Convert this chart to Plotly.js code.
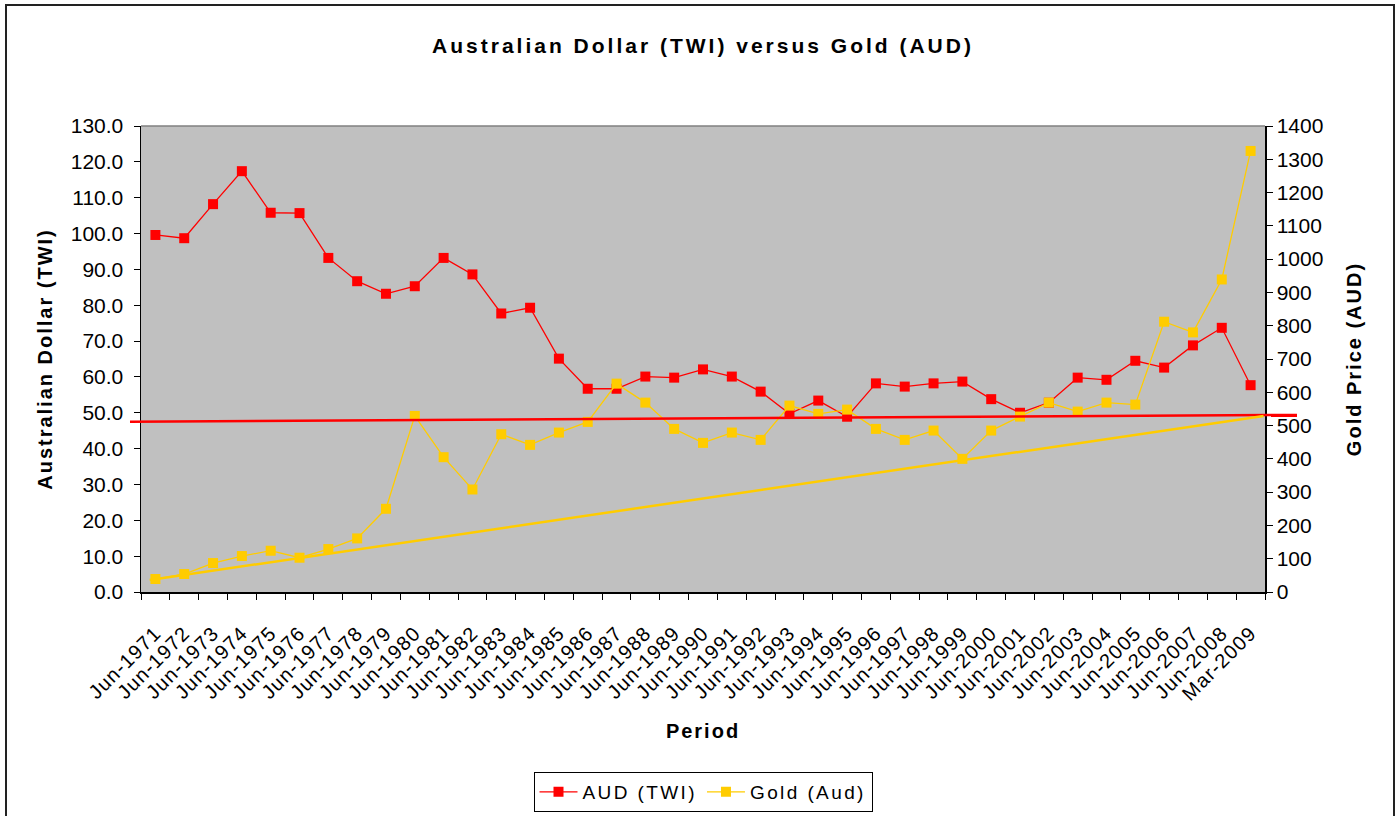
<!DOCTYPE html>
<html>
<head>
<meta charset="utf-8">
<script src="https://cdn.plot.ly/plotly-3.0.1.min.js"></script>
<style>
html,body{margin:0;padding:0;background:#fff;overflow:hidden;}
#chart{position:absolute;left:0;top:0;width:1397px;height:816px;}
#frame{position:absolute;left:5px;top:4px;width:1386px;height:830px;border:2px solid #222;pointer-events:none;z-index:10;}
.gtitle{letter-spacing:3px;}
.xtitle,.ytitle,.y2title{letter-spacing:2px;}
.legendtext{letter-spacing:2.4px;}
.xtick text{letter-spacing:1.2px;}
</style>
</head>
<body>
<div id="chart"></div>
<div id="frame"></div>
<script>
const periods = ["Jun-1971","Jun-1972","Jun-1973","Jun-1974","Jun-1975","Jun-1976","Jun-1977","Jun-1978","Jun-1979","Jun-1980",
"Jun-1981","Jun-1982","Jun-1983","Jun-1984","Jun-1985","Jun-1986","Jun-1987","Jun-1988","Jun-1989","Jun-1990",
"Jun-1991","Jun-1992","Jun-1993","Jun-1994","Jun-1995","Jun-1996","Jun-1997","Jun-1998","Jun-1999","Jun-2000",
"Jun-2001","Jun-2002","Jun-2003","Jun-2004","Jun-2005","Jun-2006","Jun-2007","Jun-2008","Mar-2009"];

const audTWI = [99.6,98.7,108.2,117.4,105.8,105.7,93.2,86.7,83.2,85.3,
93.2,88.6,77.7,79.3,65.1,56.7,56.7,60.1,59.8,62.1,
60.1,55.9,49.7,53.4,48.9,58.2,57.3,58.2,58.7,53.8,
50.0,52.8,59.8,59.2,64.5,62.6,68.8,73.7,57.7];

const goldAUD = [39,54,87,108,124,103,129,161,250,529,
405,308,474,442,479,511,626,569,490,448,
479,457,560,535,548,490,457,485,400,485,
527,569,542,569,563,812,780,939,1325];

// straight reference lines drawn on the chart (start value, end value)
const audLine = [47.5, 49.4];
const goldLine = [36, 529];

const yLeftRange = [0,130];
const yRightRange = [0,1400];

const font = "Liberation Sans, Arial, sans-serif";

const traces = [
  {x: periods, y: audTWI, name: "AUD (TWI)", type: "scatter", mode: "lines+markers",
   line: {color: "#FF0000", width: 1.3}, marker: {symbol: "square", size: 10, color: "#FF0000"}, yaxis: "y"},
  {x: periods, y: goldAUD, name: "Gold (Aud)", type: "scatter", mode: "lines+markers",
   line: {color: "#FFCC00", width: 1.3}, marker: {symbol: "square", size: 10, color: "#FFCC00"}, yaxis: "y2"}
];

const layout = {
  width: 1397, height: 816,
  paper_bgcolor: "#FFFFFF", plot_bgcolor: "#C0C0C0",
  margin: {l: 141, r: 132, t: 126, b: 224},
  font: {family: font, color: "#000", size: 20},
  title: {text: "<b>Australian Dollar (TWI) versus Gold (AUD)</b>", x: 0.5, xref: "paper", xanchor: "center",
          y: 1 - 46/816, yanchor: "middle", font: {family: font, size: 21, color: "#000"}},
  xaxis: {type: "category", range: [-0.5, periods.length - 0.5], tickangle: -45, tickson: "boundaries",
          ticks: "outside", ticklen: 6, tickcolor: "#000", showgrid: false, showline: true, linecolor: "#000", linewidth: 1.5,
          tickfont: {size: 20, family: font}, zeroline: false, ticklabelstandoff: 20,
          title: {text: "<b>Period</b>", font: {size: 20, family: font}, standoff: 20}},
  yaxis: {range: yLeftRange, dtick: 10, tickformat: ".1f", ticks: "outside", ticklen: 6, tickcolor: "#000",
          showgrid: false, showline: true, linecolor: "#000", linewidth: 1.5, zeroline: false,
          tickfont: {size: 21, family: font}, ticklabelstandoff: 6,
          title: {text: "<b>Australian Dollar (TWI)</b>", font: {size: 20, family: font}, standoff: 12}},
  yaxis2: {range: yRightRange, dtick: 100, overlaying: "y", side: "right", ticks: "outside", ticklen: 6, tickcolor: "#000",
           showgrid: false, showline: true, linecolor: "#000", linewidth: 1.5, zeroline: false,
           tickfont: {size: 21, family: font},
           title: {text: "<b>Gold Price (AUD)</b>", font: {size: 20, family: font}, standoff: 24}},
  showlegend: true,
  legend: {orientation: "h", x: 0.5, xanchor: "center", yref: "container", y: 1 - 772/816, yanchor: "top",
           bordercolor: "#000", borderwidth: 1, bgcolor: "#FFFFFF", font: {size: 19, family: font},
           itemwidth: 38, traceorder: "normal"},
  shapes: [
    {type: "line", xref: "paper", yref: "paper", layer: "above",
     x0: -11/1124, x1: 1156/1124, y0: audLine[0]/yLeftRange[1], y1: audLine[1]/yLeftRange[1],
     line: {color: "#FF0000", width: 2.5}},
    {type: "line", xref: "x", yref: "y2", layer: "above",
     x0: -0.2, x1: periods.length - 0.55, y0: goldLine[0], y1: goldLine[1],
     line: {color: "#FFCC00", width: 2.5}},
    {type: "line", xref: "paper", yref: "paper", x0: 0, x1: 1, y0: 1, y1: 1, line: {color: "#808080", width: 1.5}}
  ]
};

Plotly.newPlot("chart", traces, layout, {displayModeBar: false, staticPlot: true});
</script>
</body>
</html>
